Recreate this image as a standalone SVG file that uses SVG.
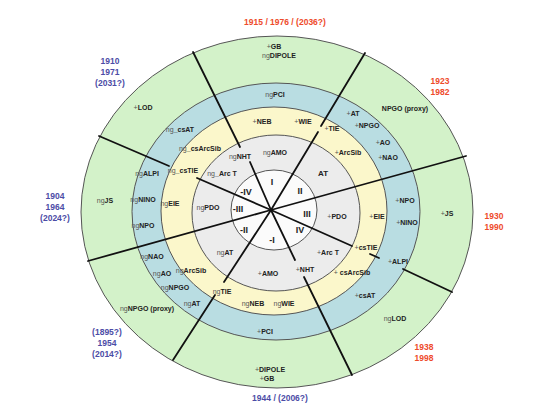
<svg xmlns="http://www.w3.org/2000/svg" width="560" height="420" viewBox="0 0 560 420">
<style>
.ring{stroke:#555;stroke-width:1}
.g{fill:#d3f2c9}.b{fill:#b9dde2}.y{fill:#fbf7cb}.k{fill:#ececec}.w{fill:#fbfbfb}
text{font-family:"Liberation Sans",Arial,sans-serif;font-weight:bold;text-anchor:middle}
.t{font-size:7px;fill:#222}
.r{font-size:9px;fill:#222}
.yr{font-size:8.5px;fill:#ee4b2b}
.yb{font-size:8.5px;fill:#4c4ca6}
.n{font-weight:normal;fill:#555}
.cn line{stroke:#111;stroke-width:1.8;stroke-linecap:round}
</style>
<rect width="560" height="420" fill="#fff"/>
<g id="rings">
<ellipse id="ring-green" class="ring g" cx="277" cy="212" rx="196" ry="176"/>
<ellipse id="ring-blue" class="ring b" cx="276" cy="211.5" rx="144" ry="128.5"/>
<ellipse id="ring-yellow" class="ring y" cx="274" cy="211" rx="113" ry="104"/>
<ellipse id="ring-gray" class="ring k" cx="276" cy="213" rx="84" ry="78"/>
<ellipse id="ring-white" class="ring w" cx="274" cy="210" rx="43" ry="40"/>
</g>
<g id="connectors" class="cn">
<line x1="193" y1="52" x2="240" y2="147"/><line x1="250" y1="162" x2="271" y2="210"/>
<line x1="365" y1="53" x2="321" y2="126"/><line x1="318" y1="132" x2="271" y2="210"/>
<line x1="466" y1="156" x2="271" y2="210"/>
<line x1="271" y1="210" x2="352" y2="246"/><line x1="370" y1="254" x2="379" y2="258"/><line x1="403" y1="269" x2="452" y2="292"/>
<line x1="271" y1="210" x2="295" y2="260"/><line x1="304" y1="277" x2="352" y2="375"/>
<line x1="271" y1="210" x2="224" y2="282"/><line x1="215" y1="295" x2="173" y2="360"/>
<line x1="271" y1="210" x2="88" y2="261"/>
<line x1="99" y1="136" x2="169" y2="166"/><line x1="197" y1="178" x2="271" y2="210"/>
</g>
<g id="green-labels" class="t">
<text x="274" y="48.5"><tspan class="n">+</tspan>GB</text>
<text x="279" y="57.5"><tspan class="n">ng</tspan>DIPOLE</text>
<text x="405" y="110.5">NPGO (proxy)</text>
<text x="447" y="215.5"><tspan class="n">+</tspan>JS</text>
<text x="395" y="320.5"><tspan class="n">ng</tspan>LOD</text>
<text x="270" y="371.5"><tspan class="n">+</tspan>DIPOLE</text>
<text x="267" y="380.5"><tspan class="n">+</tspan>GB</text>
<text x="147" y="310.5"><tspan class="n">ng</tspan>NPGO (proxy)</text>
<text x="105" y="202.5"><tspan class="n">ng</tspan>JS</text>
<text x="143" y="109.5"><tspan class="n">+</tspan>LOD</text>
</g>
<g id="blue-labels" class="t">
<text x="275" y="96.5"><tspan class="n">ng</tspan>PCI</text>
<text x="353" y="115.5"><tspan class="n">+</tspan>AT</text>
<text x="367" y="127.5"><tspan class="n">+</tspan>NPGO</text>
<text x="383" y="144.5"><tspan class="n">+</tspan>AO</text>
<text x="388" y="159.5"><tspan class="n">+</tspan>NAO</text>
<text x="405" y="202.5"><tspan class="n">+</tspan>NPO</text>
<text x="407" y="224.5"><tspan class="n">+</tspan>NINO</text>
<text x="398" y="263.5"><tspan class="n">+</tspan>ALPI</text>
<text x="365" y="297.5"><tspan class="n">+</tspan>csAT</text>
<text x="265" y="333.5"><tspan class="n">+</tspan>PCI</text>
<text x="192" y="305.5"><tspan class="n">ng</tspan>AT</text>
<text x="175" y="289.5"><tspan class="n">ng</tspan>NPGO</text>
<text x="162" y="275.5"><tspan class="n">ng</tspan>AO</text>
<text x="152" y="258.5"><tspan class="n">ng</tspan>NAO</text>
<text x="143" y="227.5"><tspan class="n">ng</tspan>NPO</text>
<text x="143" y="201.5"><tspan class="n">ng</tspan>NINO</text>
<text x="147" y="175.5"><tspan class="n">ng</tspan>ALPI</text>
<text x="180" y="131.5"><tspan class="n">ng</tspan>_csAT</text>
</g>
<g id="yellow-labels" class="t">
<text x="262" y="123.5"><tspan class="n">+</tspan>NEB</text>
<text x="303" y="123.5"><tspan class="n">+</tspan>WIE</text>
<text x="332" y="130.5"><tspan class="n">+</tspan>TIE</text>
<text x="348" y="154.5"><tspan class="n">+</tspan>ArcSib</text>
<text x="377" y="218.5"><tspan class="n">+</tspan>EIE</text>
<text x="366" y="249.5"><tspan class="n">+</tspan>csTIE</text>
<text x="352" y="274.5"><tspan class="n">+</tspan> csArcSib</text>
<text x="284" y="305.5"><tspan class="n">ng</tspan>WIE</text>
<text x="253" y="305.5"><tspan class="n">ng</tspan>NEB</text>
<text x="222" y="293.5"><tspan class="n">ng</tspan>TIE</text>
<text x="191" y="272.5"><tspan class="n">ng</tspan>ArcSib</text>
<text x="170" y="205.5"><tspan class="n">ng</tspan>EIE</text>
<text x="183" y="172.5"><tspan class="n">ng</tspan>_csTIE</text>
<text x="200" y="150.5"><tspan class="n">ng</tspan>_csArcSib</text>
</g>
<g id="gray-labels" class="t">
<text x="240" y="158.5"><tspan class="n">ng</tspan>NHT</text>
<text x="275" y="154.5"><tspan class="n">ng</tspan>AMO</text>
<text x="323" y="175.5" style="font-size:8px">AT</text>
<text x="337" y="218.5"><tspan class="n">+</tspan>PDO</text>
<text x="328" y="254.5"><tspan class="n">+</tspan>Arc T</text>
<text x="305" y="271.5"><tspan class="n">+</tspan>NHT</text>
<text x="268" y="275.5"><tspan class="n">+</tspan>AMO</text>
<text x="225" y="254.5"><tspan class="n">ng</tspan>AT</text>
<text x="208" y="209.5"><tspan class="n">ng</tspan>PDO</text>
<text x="222" y="175.5"><tspan class="n">ng</tspan>_Arc T</text>
</g>
<g id="inner-labels" class="r">
<text x="272" y="185">I</text>
<text x="300" y="194">II</text>
<text x="307" y="216.5">III</text>
<text x="300" y="233">IV</text>
<text x="272" y="243">-I</text>
<text x="244" y="233">-II</text>
<text x="238" y="211.5">-III</text>
<text x="246" y="195">-IV</text>
</g>
<g id="years">
<text class="yr" x="285" y="25">1915 / 1976 / (2036?)</text>
<text class="yr" x="440" y="84">1923</text>
<text class="yr" x="440" y="95">1982</text>
<text class="yr" x="494" y="219">1930</text>
<text class="yr" x="494" y="230">1990</text>
<text class="yr" x="424" y="350">1938</text>
<text class="yr" x="424" y="361">1998</text>
<text class="yb" x="280" y="401">1944 / (2006?)</text>
<text class="yb" x="107" y="335">(1895?)</text>
<text class="yb" x="107" y="345.5">1954</text>
<text class="yb" x="107" y="356.5">(2014?)</text>
<text class="yb" x="55" y="199">1904</text>
<text class="yb" x="55" y="210">1964</text>
<text class="yb" x="55" y="220.5">(2024?)</text>
<text class="yb" x="110" y="64">1910</text>
<text class="yb" x="110" y="75">1971</text>
<text class="yb" x="110" y="86">(2031?)</text>
</g>
</svg>
